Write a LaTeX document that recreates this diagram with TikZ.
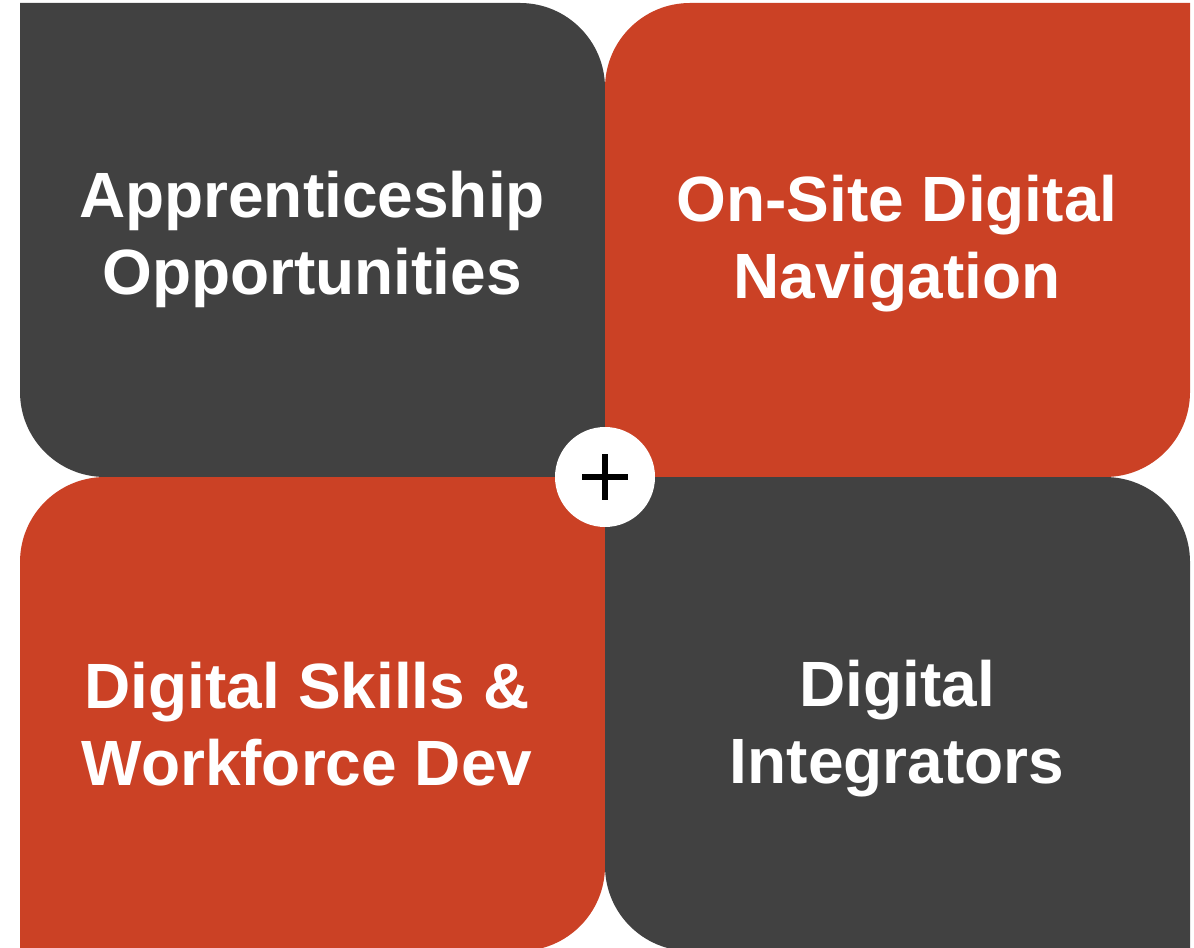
\documentclass[tikz,border=0pt]{standalone}
\usepackage{fontspec}
\setmainfont{Liberation Sans}
\definecolor{tiledark}{HTML}{414141}
\definecolor{tilered}{HTML}{CB4125}
\tikzset{
	tiletext/.style={text=white, align=center, font=\fontsize{48}{58}\selectfont\bfseries}
}
\begin{document}
\begin{tikzpicture}[x=0.75pt, y=0.75pt]
		\useasboundingbox (0,0) rectangle (1194,947);

		% upper row
		\fill[tiledark] (20,944) -- (520,944) arc[start angle=90, end angle=0, radius=85]
			-- (605,470) -- (105,470) arc[start angle=270, end angle=180, radius=85] -- cycle;
		\fill[tilered] (690,944) -- (1190,944) -- (1190,555) arc[start angle=0, end angle=-90, radius=85]
			-- (605,470) -- (605,859) arc[start angle=180, end angle=90, radius=85] -- cycle;

		% lower row
		\fill[tilered] (105,470) -- (605,470) -- (605,81) arc[start angle=0, end angle=-90, radius=85]
			-- (20,-4) -- (20,385) arc[start angle=180, end angle=90, radius=85] -- cycle;
		\fill[tiledark] (605,470) -- (1105,470) arc[start angle=90, end angle=0, radius=85]
			-- (1190,-4) -- (690,-4) arc[start angle=270, end angle=180, radius=85] -- cycle;

		\node[tiletext] (TL) at (312,707.5) {Apprenticeship\\Opportunities};
		\node[tiletext] (TR) at (897,703.5) {On-Site Digital\\Navigation};
		\node[tiletext] (BL) at (307,223) {Digital Skills \&\\Workforce Dev};
		\node[tiletext] (BR) at (897,218.5) {Digital\\Integrators};

		\node[circle, fill=white, minimum size=75pt, inner sep=0pt] (hub) at (605,470) {};
		\draw[line width=4.5pt] ([xshift=-17pt]hub.center) -- ([xshift=17pt]hub.center);
		\draw[line width=4.5pt] ([yshift=-17pt]hub.center) -- ([yshift=17pt]hub.center);
	\end{tikzpicture}
\end{document}
